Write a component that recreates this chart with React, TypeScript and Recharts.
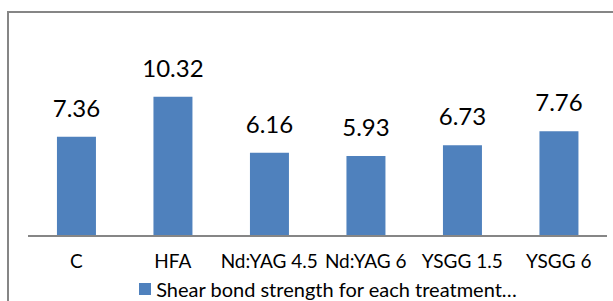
import { Bar, BarChart, LabelList, Legend, XAxis, YAxis } from "recharts";

const treatments = ["C", "HFA", "Nd:YAG 4.5", "Nd:YAG 6", "YSGG 1.5", "YSGG 6"];
const shearBond = [7.36, 10.32, 6.16, 5.93, 6.73, 7.76];
const seriesName = "Shear bond strength for each treatment…";

const data = treatments.map((name, i) => ({ name, value: shearBond[i] }));

const font = "Lato, 'Open Sans', sans-serif";

const renderLegend = () => (
  <div
    style={{
      display: "flex",
      alignItems: "center",
      justifyContent: "center",
      paddingLeft: 21,
      fontFamily: font,
      fontSize: 20,
      lineHeight: 1,
      color: "#000",
      height: 20,
    }}
  >
    <span
      style={{
        display: "inline-block",
        width: 12,
        height: 12,
        background: "#4F81BD",
        marginRight: 5,
      }}
    />
    {seriesName}
  </div>
);

export default function App() {
  return (
    <div
      style={{
        position: "absolute",
        left: 0,
        top: 0,
        width: 613,
        height: 301,
        background: "#fff",
        overflow: "hidden",
      }}
    >
      {/* chart frame, cut off at right and bottom like the reference */}
      <div
        style={{
          position: "absolute",
          left: 7,
          top: 11,
          width: 700,
          height: 400,
          borderLeft: "2px solid #868686",
          borderTop: "2px solid #868686",
        }}
      />
      <BarChart
        width={613}
        height={301}
        data={data}
        margin={{ top: 74, right: 6, bottom: 0, left: 28 }}
        barCategoryGap="30%"
      >
        <XAxis
          dataKey="name"
          height={45}
          tickLine={false}
          axisLine={{ stroke: "#868686", strokeWidth: 2 }}
          tickMargin={13}
          tick={{ fill: "#000", fontSize: 19, fontFamily: font }}
          interval={0}
        />
        <YAxis hide domain={[0, 12]} />
        <Legend
          verticalAlign="bottom"
          content={renderLegend}
          wrapperStyle={{ height: 20, bottom: 2 }}
        />
        <Bar
          dataKey="value"
          name={seriesName}
          fill="#4F81BD"
          isAnimationActive={false}
        >
          <LabelList
            dataKey="value"
            position="top"
            offset={20}
            style={{ fill: "#000", fontSize: 24, fontFamily: font }}
          />
        </Bar>
      </BarChart>
    </div>
  );
}
